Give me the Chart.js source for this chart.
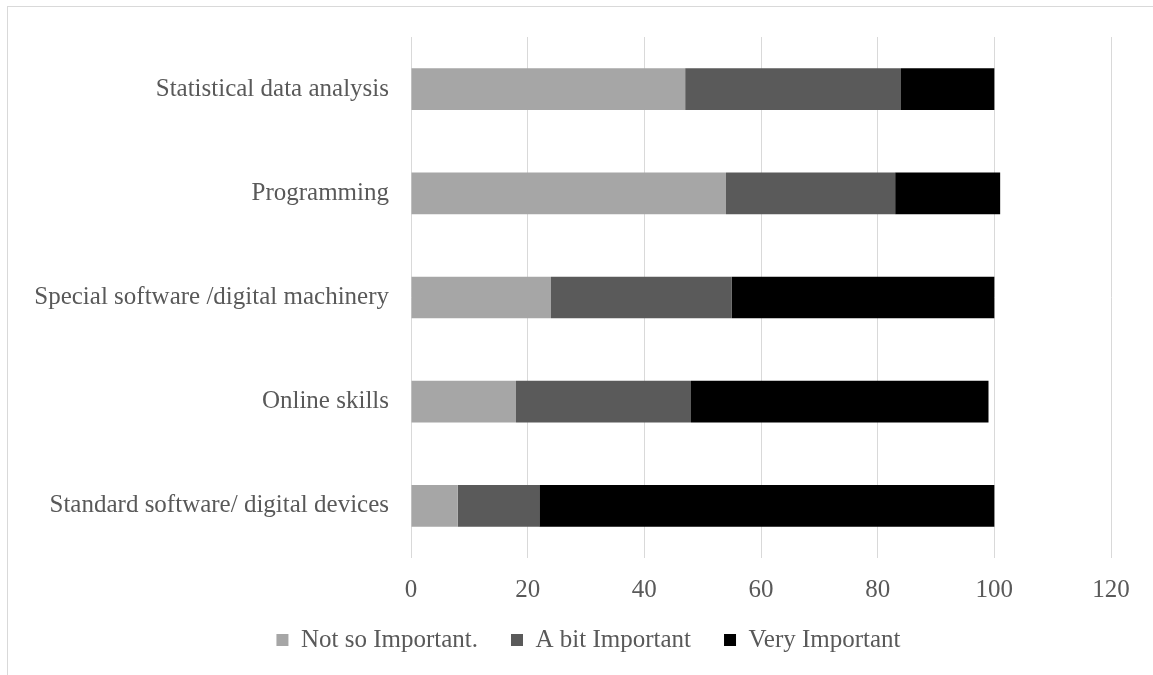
<!DOCTYPE html>
<html>
<head>
<meta charset="utf-8">
<script src="https://cdn.jsdelivr.net/npm/chart.js@4/dist/chart.umd.min.js"></script>
<style>
  html, body { margin: 0; padding: 0; background: #fff; overflow: hidden; }
  #wrap { position: relative; width: 1153px; height: 675px; }
  #frame { position: absolute; left: 7px; top: 6px; width: 1170px; height: 700px;
           border: 1px solid #d9d9d9; box-sizing: border-box; }
  #c { position: absolute; left: 0; top: 0; }
</style>
</head>
<body>
<div id="wrap">
  <div id="frame"></div>
  <canvas id="c" width="1153" height="675"></canvas>
</div>
<script>
// Skill areas, listed top to bottom
const categories = [
  'Statistical data analysis',
  'Programming',
  'Special software /digital machinery',
  'Online skills',
  'Standard software/ digital devices'
];

// Responses per importance level
const notSoImportant = [47, 54, 24, 18, 8];
const aBitImportant  = [37, 29, 31, 30, 14];
const veryImportant  = [16, 18, 45, 51, 78];

const seriesNames = ['Not so Important.', 'A bit Important', 'Very Important'];

// Value axis
const axisMin = 0;
const axisMax = 120;
const axisStep = 20;

const FONT = "'Liberation Serif', 'Times New Roman', serif";
const TEXT = '#595959';

Chart.defaults.font.family = FONT;
Chart.defaults.font.size = 25;
Chart.defaults.color = TEXT;

// Nudge the legend row so it sits centred under the plot area, closer to the axis labels
const legendNudge = {
  id: 'legendNudge',
  afterLayout(chart) {
    const lg = chart.legend;
    if (!lg) return;
    const dy = -10.5, dx = 33;
    lg.top += dy; lg.bottom += dy;
    lg.left += dx; lg.right += dx;
  }
};

new Chart(document.getElementById('c'), {
  type: 'bar',
  data: {
    labels: categories,
    datasets: [
      { label: seriesNames[0], data: notSoImportant, backgroundColor: '#a6a6a6' },
      { label: seriesNames[1], data: aBitImportant,  backgroundColor: '#5a5a5a' },
      { label: seriesNames[2], data: veryImportant,  backgroundColor: '#000000' }
    ]
  },
  plugins: [legendNudge],
  options: {
    indexAxis: 'y',
    responsive: false,
    animation: false,
    datasets: {
      bar: { categoryPercentage: 1, barPercentage: 0.4, borderWidth: 0 }
    },
    layout: { padding: { top: 34, right: 42, left: 0, bottom: 2 } },
    scales: {
      x: {
        stacked: true,
        min: axisMin,
        max: axisMax,
        ticks: { stepSize: axisStep, padding: 17, color: TEXT },
        grid: { color: '#d9d9d9', lineWidth: 1, drawTicks: false },
        border: { display: false },
        afterFit: (s) => { s.height = 47; }
      },
      y: {
        stacked: true,
        grid: { display: false, drawTicks: false },
        border: { display: false },
        ticks: { padding: 22, color: TEXT },
        afterFit: (s) => { s.width = 411; }
      }
    },
    plugins: {
      legend: {
        position: 'bottom',
        labels: { boxWidth: 12, boxHeight: 12, padding: 33, color: TEXT }
      },
      tooltip: { enabled: false }
    }
  }
});
</script>
</body>
</html>
